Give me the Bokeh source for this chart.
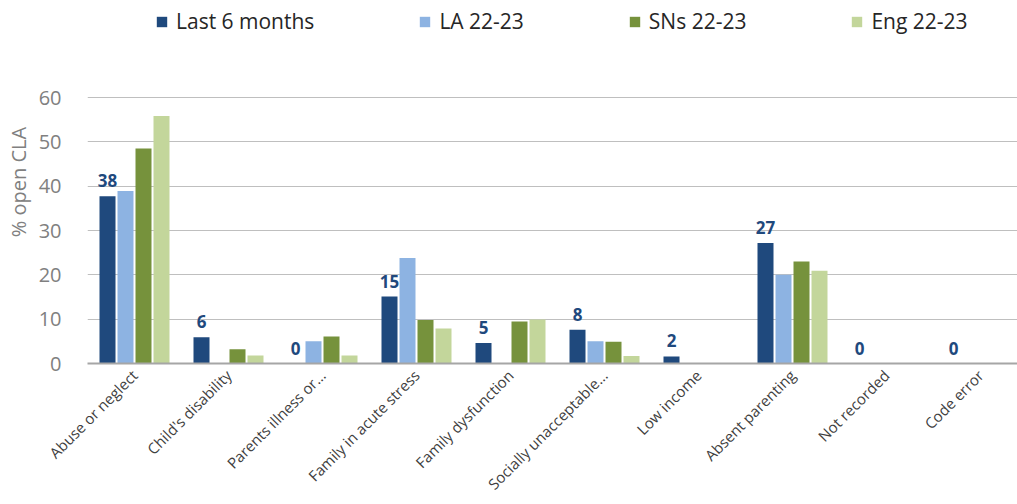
import math
from bokeh.plotting import figure
from bokeh.models import (ColumnDataSource, FixedTicker, Legend, LegendItem,
                          LabelSet, Range1d)
from bokeh.core.properties import value
from bokeh.transform import dodge
from bokeh.embed import file_html
from bokeh.resources import INLINE

categories = ["Abuse or neglect", "Child's disability", "Parents illness or...",
              "Family in acute stress", "Family dysfunction",
              "Socially unacceptable...", "Low income", "Absent parenting",
              "Not recorded", "Code error"]
series_names = ["Last 6 months", "LA 22-23", "SNs 22-23", "Eng 22-23"]
last6 = [37.7, 5.9, 0, 15.1, 4.6, 7.6, 1.6, 27.2, 0, 0]
la = [38.9, 0, 5.0, 23.8, 0, 5.0, 0, 20.0, 0, 0]
sns = [48.5, 3.2, 6.1, 9.8, 9.5, 4.9, 0, 23.0, 0, 0]
eng = [55.8, 1.8, 1.8, 7.9, 9.9, 1.7, 0, 20.9, 0, 0]
colors = ["#1F497D", "#8DB3E2", "#76923C", "#C3D69B"]
y_ticks = [0, 10, 20, 30, 40, 50, 60]

xs = list(range(len(categories)))
src = ColumnDataSource(dict(x=xs, last6=last6, la=la, sns=sns, eng=eng,
                            lab=[f"{v:.0f}" for v in last6]))

FONT = "Open Sans"
# the frame reaches the top edge so that the legend (drawn inside it) shows;
# 60 stays at 97px from the top, 0 at 363px
y_top = 60 * 363 / 266
p = figure(width=1017, height=504, x_range=Range1d(-0.5, -0.5 + 930 / 94),
           y_range=Range1d(0, y_top), output_backend="svg",
           toolbar_location=None, min_border_left=87, min_border_right=0,
           min_border_top=0, min_border_bottom=141)
p.outline_line_color = None
p.background_fill_color = "white"

pitch = 18 / 94
bw = 16 / 94
offsets = [-1.5 * pitch, -0.5 * pitch, 0.5 * pitch, 1.5 * pitch]
renderers = []
for col, off, c in zip(["last6", "la", "sns", "eng"], offsets, colors):
    r = p.vbar(x=dodge("x", off, range=p.x_range), top=col, width=bw,
               source=src, fill_color=c, line_color=None)
    renderers.append(r)

labels = LabelSet(x=dodge("x", offsets[0], range=p.x_range), y="last6",
                  text="lab", source=src, text_align="center",
                  text_baseline="bottom", y_offset=9, text_font=value(FONT),
                  text_font_style="bold", text_font_size="17px",
                  text_color="#1F497D")
p.add_layout(labels)

# axes
p.yaxis.ticker = FixedTicker(ticks=y_ticks)
p.yaxis.bounds = (0, 60)
p.yaxis.axis_line_color = None
p.yaxis.major_tick_line_color = None
p.yaxis.minor_tick_line_color = None
p.yaxis.major_label_text_font = FONT
p.yaxis.major_label_text_font_size = "20px"
p.yaxis.major_label_text_color = "#808080"
p.yaxis.major_label_standoff = 20
p.yaxis.axis_label = "% open CLA"
p.yaxis.axis_label_text_font = FONT
p.yaxis.axis_label_text_font_size = "20px"
p.yaxis.axis_label_text_font_style = "normal"
p.yaxis.axis_label_text_color = "#808080"
p.yaxis.axis_label_standoff = 4

p.xaxis.ticker = FixedTicker(ticks=xs)
p.xaxis.major_label_overrides = {i: c for i, c in zip(xs, categories)}
p.xaxis.major_label_orientation = math.pi / 4
p.xaxis.major_label_text_font = FONT
p.xaxis.major_label_text_font_size = "15px"
p.xaxis.major_label_text_line_height = 1.0
p.xaxis.major_label_text_color = "#404040"
p.xaxis.major_label_standoff = 3
p.xaxis.axis_line_color = "#A6A6A6"
p.xaxis.axis_line_width = 2
p.xaxis.major_tick_line_color = None
p.xaxis.minor_tick_line_color = None

p.xgrid.grid_line_color = None
p.ygrid.grid_line_color = "#BFBFBF"
p.ygrid.grid_line_width = 1
p.ygrid.ticker = FixedTicker(ticks=y_ticks)

legend = Legend(items=[LegendItem(label=n, renderers=[r])
                       for n, r in zip(series_names, renderers)],
                orientation="horizontal", location=(68, 328), spacing=104,
                glyph_width=13, glyph_height=13, label_standoff=8, padding=0,
                margin=0, border_line_color=None, background_fill_alpha=0,
                label_text_font=FONT, label_text_font_size="21px",
                label_text_color="#262626")
p.add_layout(legend, "center")

open("out.html", "w").write(file_html(p, INLINE))
